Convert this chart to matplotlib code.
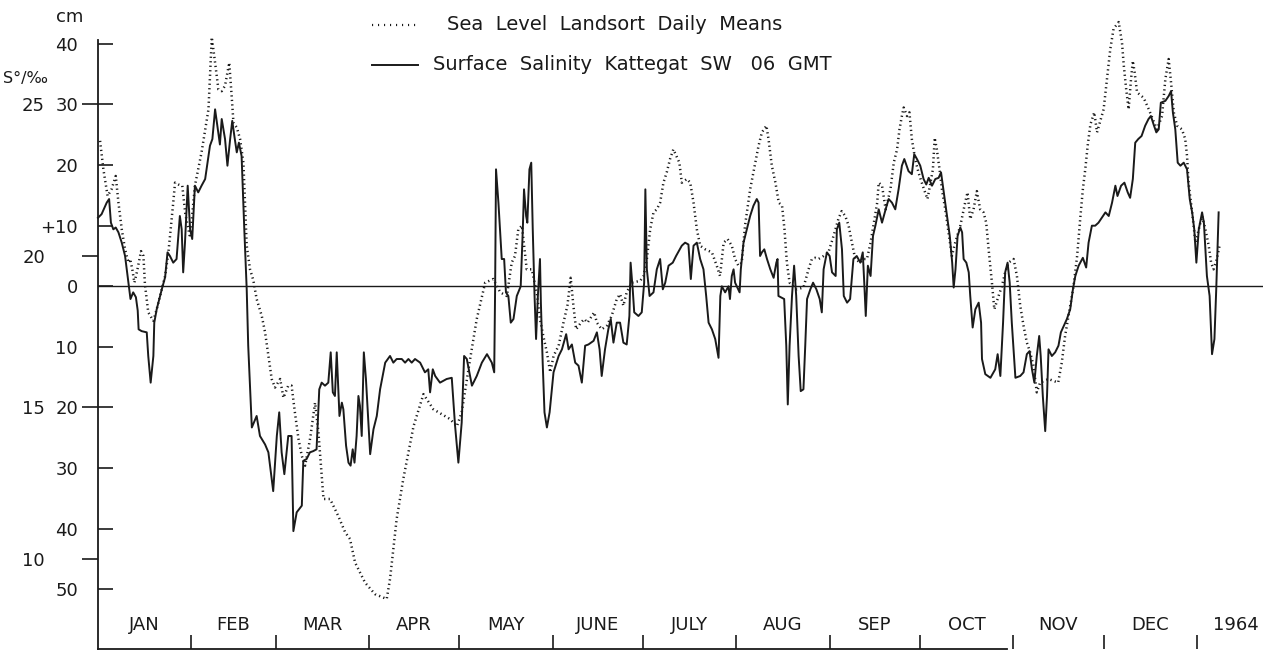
import matplotlib
matplotlib.use("Agg")
import matplotlib.pyplot as plt
from matplotlib.lines import Line2D

plt.rcParams['font.family'] = ['DejaVu Sans']

# sea level Landsort, daily means (cm), x = day of year 1963
sea_day = [0.7, 1.8, 3.2, 4.5, 5.9, 6.8, 7.9, 9.0, 10.1, 10.7, 11.4, 12.1, 13.0, 14.3, 15.1, 15.6,
           16.7, 18.4, 19.5, 21.2, 22.3, 23.4, 25.0, 25.6, 26.7, 28.0, 29.0, 30.6, 32.2, 34.4, 36.7,
           37.8, 38.9, 40.0, 41.1, 42.2, 43.6, 44.4, 45.0, 46.1, 47.2, 48.3, 49.4, 50.5, 51.6, 52.7,
           54.4, 55.5, 56.6, 57.7, 58.8, 60.5, 61.6, 63.2, 64.3, 65.4, 66.6, 67.7, 68.8, 70.5, 72.1,
           73.2, 74.9, 77.1, 79.8, 82.1, 83.7, 85.4, 88.7, 92.0, 95.9, 97.0, 99.2, 101.4, 104.8,
           108.1, 111.4, 116.9, 119.2, 120.8, 123.6, 125.8, 128.6, 131.3, 133.6, 135.8, 137.4,
           138.5, 139.6, 140.8, 142.4, 144.1, 145.7, 146.8, 147.9, 149.1, 150.2, 151.3, 153.0,
           154.6, 155.9, 157.0, 157.9, 158.8, 160.4, 161.5, 162.6, 164.8, 165.7, 167.3, 169.0,
           170.6, 172.3, 173.4, 174.5, 175.6, 177.3, 180.1, 181.2, 182.3, 183.4, 184.5, 185.6,
           186.7, 187.8, 188.9, 190.0, 191.1, 193.1, 193.9, 195.6, 196.7, 197.8, 198.9, 200.0,
           201.7, 203.9, 205.5, 206.6, 207.8, 209.1, 210.5, 211.6, 212.7, 213.8, 214.9, 216.6,
           218.3, 219.4, 220.5, 222.0, 222.7, 223.8, 225.0, 226.1, 227.2, 228.0, 228.8, 229.7,
           232.1, 234.3, 236.0, 237.1, 238.2, 239.3, 241.0, 242.6, 244.3, 245.9, 247.0, 248.2,
           249.3, 250.4, 251.5, 253.2, 254.3, 255.4, 256.6, 257.7, 258.8, 259.3, 260.4, 261.6,
           263.2, 264.3, 265.4, 266.2, 267.0, 267.6, 268.7, 269.5, 270.3, 271.4, 272.5, 273.6,
           274.7, 275.5, 277.3, 277.9, 278.6, 279.5, 280.3, 281.4, 282.5, 283.6, 284.7, 286.4,
           288.0, 288.8, 289.7, 290.8, 291.9, 293.0, 294.1, 295.0, 295.8, 296.9, 297.7, 299.1,
           300.2, 301.3, 302.4, 304.1, 305.2, 306.3, 307.4, 308.5, 309.6, 310.7, 311.8, 312.9,
           315.7, 318.9, 320.1, 321.2, 322.9, 324.0, 325.2, 326.3, 327.1, 327.9, 328.7, 329.6,
           330.9, 331.8, 334.0, 335.1, 336.2, 337.3, 339.0, 340.1, 340.7, 341.5, 342.3, 343.1,
           343.7, 344.3, 345.1, 347.3, 349.0, 351.7, 353.4, 354.5, 355.6, 356.4, 357.3, 358.4,
           360.0, 361.1, 361.7, 362.2, 363.4, 364.5, 366.7, 367.8, 368.9, 369.7, 370.5, 371.6, 372.5]
sea_cm = [24.0, 19.3, 14.9, 16.0, 18.2, 13.8, 9.4, 6.1, 3.9, 4.5, 2.8, 0.6, 2.5, 5.8, 5.0, 0.3,
          -4.3, -5.7, -3.8, -0.5, 1.7, 5.6, 13.8, 17.1, 16.8, 16.6, 12.0, 8.0, 16.6, 22.1, 29.2,
          41.1, 36.9, 32.5, 32.2, 33.1, 36.9, 31.4, 27.0, 26.2, 24.3, 20.4, 6.7, 2.8, 1.0, -2.1,
          -4.9, -7.6, -11.5, -15.3, -16.7, -15.3, -18.4, -16.4, -16.4, -20.8, -25.2, -28.0, -29.6, -25.0, -19.2,
          -24.0, -35.1, -35.1, -37.9, -40.6, -41.7, -45.6, -48.9, -50.8, -51.6, -48.3, -38.4, -31.8, -23.1,
          -17.8, -20.3, -21.9, -23.1, -20.8, -12.0, -5.4, 0.6, 1.2, -1.0, -1.6, 3.9,
          5.0, 9.4, 10.0, 2.8, 2.8, -1.0, -5.4, -8.2, -10.9, -14.2, -11.5, -9.8,
          -6.0, -3.2, 1.4, -3.2, -7.1, -6.0, -5.4, -6.0, -4.3, -6.0, -7.1, -6.5,
          -4.9, -2.1, -1.3, -3.2, -1.0, 0.6, 0.9, 1.7, 4.5, 9.4, 12.2, 12.7,
          13.8, 17.1, 18.8, 21.0, 22.6, 20.4, 17.1, 17.7, 17.1, 13.8, 9.4, 6.7,
          6.1, 5.6, 3.4, 1.7, 7.2, 7.8, 6.7, 4.5, 3.4, 3.9, 10.0, 16.0,
          20.4, 23.2, 25.4, 26.5, 24.3, 19.9, 17.1, 13.8, 13.3, 9.4, 3.9, 0.6,
          -0.5, -0.2, 2.8, 4.5, 4.7, 4.5, 5.0, 5.6, 8.3, 11.1, 12.4, 11.6,
          10.0, 7.2, 4.5, 3.9, 4.5, 4.5, 7.2, 10.5, 13.8, 17.1, 16.6, 12.7,
          16.0, 20.4, 22.6, 25.9, 28.1, 29.5, 28.1, 28.7, 24.3, 21.0, 18.8, 17.1,
          15.5, 14.4, 19.3, 24.5, 22.6, 19.3, 16.0, 12.7, 8.9, 5.0, 7.2, 10.0,
          13.8, 15.5, 11.1, 12.7, 15.7, 12.7, 12.2, 10.5, 6.1, 0.6, -3.8, -1.6,
          0.0, 2.3, 3.9, 4.5, 1.7, -3.2, -6.5, -9.3, -10.9, -13.1, -17.5, -15.9,
          -15.3, -15.9, -12.6, -8.2, -3.2, 0.0, 5.0, 11.6, 16.0, 19.3, 23.2, 26.7,
          28.7, 25.4, 29.2, 34.2, 39.1, 42.5, 43.6, 40.2, 36.4, 32.5, 29.2, 34.2,
          37.2, 35.3, 32.0, 31.1, 29.2, 25.9, 28.1, 34.2, 37.5, 33.6, 28.7, 26.5,
          25.9, 24.3, 21.5, 17.1, 12.2, 7.2, 11.6, 9.4, 6.7, 3.9, 2.8, 4.5, 6.7]

# surface salinity Kattegat SW, 06 GMT (per mille)
sal_day = [0.0, 1.2, 2.9, 3.7, 4.3, 5.1, 5.9, 6.8, 7.9, 9.0, 10.0, 10.8, 11.7, 12.6, 13.2, 13.5,
           14.5, 16.2, 16.7, 17.5, 18.4, 18.7, 19.5, 21.2, 22.3, 23.1, 23.9, 25.0, 26.1, 27.2,
           27.8, 28.3, 28.9, 29.8, 30.6, 31.3, 32.2, 33.3, 34.4, 35.6, 37.2, 38.0, 38.9, 39.8,
           40.5, 41.1, 42.2, 43.0, 43.9, 44.6, 45.3, 46.1, 46.8, 47.7, 48.6, 49.4, 49.9, 51.1,
           52.7, 53.8, 55.5, 56.6, 58.2, 59.4, 60.2, 61.0, 61.9, 63.2, 64.3, 64.9, 66.0, 67.7,
           68.2, 69.3, 70.4, 71.5, 72.6, 73.5, 74.3, 75.4, 76.5, 77.3, 78.0, 78.7, 79.3, 80.2,
           81.0, 81.5, 82.4, 83.2, 83.9, 84.6, 85.2, 85.9, 86.5, 87.0, 87.6, 88.3, 89.0, 89.8,
           90.4, 91.5, 92.6, 93.7, 95.4, 97.0, 98.1, 99.2, 100.9, 102.0, 103.1, 104.2, 105.3,
           107.0, 108.6, 109.7, 110.3, 111.2, 112.0, 113.6, 115.8, 117.5, 118.6, 119.7, 120.8,
           121.6, 122.5, 124.2, 125.8, 127.5, 129.2, 130.8, 131.6, 131.9, 132.2, 133.0, 134.1,
           134.9, 135.5, 136.3, 137.1, 138.0, 139.1, 140.4, 141.1, 141.5, 142.2, 142.6, 143.3,
           143.9, 144.4, 145.0, 145.5, 146.1, 146.8, 147.1, 147.7, 148.3, 149.1, 150.0, 151.3,
           153.0, 154.1, 155.5, 156.3, 157.4, 158.5, 159.6, 160.7, 161.8, 162.9, 164.6, 165.7,
           166.6, 167.3, 168.4, 169.5, 170.3, 171.2, 172.3, 173.4, 174.5, 175.6, 176.5, 176.9,
           177.6, 178.1, 179.5, 180.6, 181.4, 181.8, 182.3, 183.2, 184.5, 185.6, 186.7, 187.6,
           188.4, 189.5, 190.9, 192.0, 193.9, 195.0, 196.1, 196.9, 197.8, 198.9, 200.0, 201.1,
           202.0, 202.8, 203.9, 205.0, 206.1, 206.7, 207.2, 208.3, 209.4, 209.9, 210.5, 211.1,
           211.6, 213.1, 213.5, 214.4, 215.5, 216.6, 217.7, 218.8, 219.4, 219.9, 220.5, 221.3,
           222.2, 223.3, 224.4, 225.3, 225.7, 226.0, 227.1, 227.9, 228.6, 229.1, 229.7, 230.5,
           231.2, 231.9, 232.7, 233.4, 234.3, 234.9, 235.5, 236.6, 237.5, 238.6, 239.7, 240.4,
           241.0, 242.1, 243.0, 243.8, 245.0, 245.4, 246.2, 247.1, 247.7, 248.8, 249.8, 250.9,
           252.0, 253.2, 254.0, 254.5, 255.0, 255.7, 256.6, 257.4, 258.2, 259.3, 260.4, 261.6,
           262.6, 263.7, 264.8, 265.9, 267.0, 267.8, 269.2, 270.3, 271.1, 272.0, 273.1, 274.2,
           275.1, 275.9, 277.0, 278.1, 279.2, 280.0, 280.9, 282.0, 282.9, 283.7, 284.2, 284.8,
           285.5, 286.4, 287.0, 287.5, 288.4, 289.2, 289.7, 290.5, 291.4, 292.5, 293.3, 293.6,
           294.7, 296.4, 298.0, 298.8, 299.7, 300.6, 301.3, 302.1, 302.8, 303.5, 304.7, 306.3,
           307.4, 308.5, 309.4, 310.2, 311.0, 311.8, 312.6, 313.1, 313.8, 314.6, 315.2, 315.7,
           316.8, 317.9, 319.0, 319.8, 321.8, 322.9, 323.8, 324.6, 325.7, 327.1, 328.2, 329.0,
           330.1, 331.2, 332.3, 334.6, 335.7, 336.8, 337.9, 338.6, 339.8, 340.9, 342.0, 342.8,
           343.7, 344.5, 345.5, 346.6, 347.8, 348.9, 349.7, 350.6, 351.5, 352.3, 353.0, 354.5,
           355.6, 356.4, 357.0, 357.8, 358.6, 359.5, 360.6, 361.7, 362.6, 363.4, 364.1, 364.8,
           365.6, 366.7, 367.3, 368.3, 369.2, 370.0, 370.8, 371.4, 372.2]
sal_pm = [21.26, 21.38, 21.76, 21.88, 21.10, 20.88, 20.94, 20.78, 20.44, 20.00, 19.20, 18.58, 18.80, 18.64, 18.20, 17.58,
          17.52, 17.48, 16.70, 15.82, 16.70, 17.80, 18.24, 18.90, 19.30, 20.12, 20.00, 19.78, 19.90, 21.32,
          20.88, 19.46, 20.44, 22.32, 20.88, 20.56, 22.32, 22.10, 22.32, 22.54, 23.64, 23.86, 24.84, 24.18,
          23.68, 24.52, 23.86, 22.98, 23.86, 24.46, 23.96, 23.42, 23.74, 23.30, 20.88, 18.90, 17.04, 14.34,
          14.72, 14.06, 13.78, 13.52, 12.24, 14.06, 14.84, 13.52, 12.80, 14.06, 14.06, 10.92, 11.54, 11.76,
          13.24, 13.30, 13.52, 13.56, 13.62, 15.60, 15.82, 15.72, 15.82, 16.82, 15.50, 15.38, 16.82, 14.72,
          15.16, 14.94, 13.74, 13.18, 13.08, 13.62, 13.18, 14.06, 15.38, 15.06, 14.06, 16.82, 15.94, 14.50,
          13.46, 14.28, 14.72, 15.60, 16.48, 16.70, 16.48, 16.60, 16.60, 16.48, 16.60, 16.48, 16.60,
          16.48, 16.16, 16.26, 15.50, 16.26, 16.04, 15.82, 15.94, 15.98, 14.40, 13.18, 14.50,
          16.70, 16.60, 15.72, 16.04, 16.48, 16.76, 16.48, 16.16, 18.90, 22.86, 21.76, 19.90,
          19.90, 18.80, 18.68, 17.80, 17.92, 18.68, 19.00, 20.88, 22.20, 21.32, 21.10, 22.86,
          23.08, 20.88, 18.68, 17.26, 18.68, 19.90, 18.46, 16.48, 14.84, 14.34, 14.84, 16.16,
          16.70, 16.92, 17.42, 16.92, 17.08, 16.48, 16.38, 15.82, 17.04, 17.08, 17.20, 17.48,
          16.92, 16.04, 16.92, 17.58, 17.92, 17.14, 17.80, 17.80, 17.14, 17.08, 18.02, 19.78,
          18.90, 18.14, 18.02, 18.14, 19.12, 22.20, 19.56, 18.68, 18.80, 19.56, 19.90, 18.90,
          19.12, 19.68, 19.78, 20.00, 20.34, 20.44, 20.38, 19.24, 20.34, 20.44, 19.90, 19.56,
          18.68, 17.80, 17.58, 17.26, 16.64, 18.68, 19.00, 18.80, 19.00, 18.58, 19.34, 19.56,
          19.12, 18.80, 19.56, 20.44, 20.88, 21.32, 21.66, 21.88, 21.76, 20.00, 20.12, 20.22,
          19.90, 19.56, 19.28, 19.78, 19.90, 18.68, 18.62, 18.58, 17.04, 15.10, 17.04, 18.68,
          19.68, 18.68, 16.70, 15.54, 15.60, 17.04, 18.58, 18.90, 19.12, 18.90, 18.58, 18.14,
          19.56, 20.12, 20.00, 19.46, 19.34, 20.88, 21.10, 20.22, 18.68, 18.46, 18.58, 19.90,
          20.00, 19.78, 20.12, 19.12, 18.02, 19.68, 19.34, 20.66, 21.00, 21.54, 21.10, 21.54,
          21.88, 21.76, 21.54, 22.20, 22.98, 23.20, 22.80, 22.70, 23.36, 23.20, 22.98, 22.54,
          22.36, 22.58, 22.32, 22.54, 22.58, 22.76, 22.10, 21.32, 20.66, 19.78, 18.96, 19.56,
          20.66, 20.94, 20.78, 19.90, 19.78, 19.46, 18.68, 17.64, 18.24, 18.46, 17.80, 16.60,
          16.10, 15.98, 16.26, 16.76, 16.04, 17.80, 19.46, 19.78, 19.12, 17.80, 15.98, 16.04,
          16.16, 16.76, 16.86, 16.26, 15.82, 16.70, 17.36, 16.70, 15.38, 14.22, 15.38, 16.92,
          16.70, 16.82, 17.04, 17.48, 17.92, 18.24, 18.90, 19.34, 19.68, 19.94, 19.62, 20.44,
          21.00, 21.00, 21.10, 21.44, 21.32, 21.76, 22.32, 21.98, 22.32, 22.42, 22.10, 21.92,
          22.54, 23.74, 23.86, 23.96, 24.30, 24.52, 24.62, 24.34, 24.08, 24.18, 25.06, 25.12,
          25.28, 25.44, 24.74, 24.18, 23.08, 22.98, 23.08, 22.86, 21.88, 21.44, 20.88, 19.78,
          20.88, 21.44, 21.10, 19.34, 18.68, 16.76, 17.26, 18.90, 21.44]

month_edges = [31, 59, 90, 120, 151, 181, 212, 243, 273, 304, 334, 365]
month_names = ['JAN', 'FEB', 'MAR', 'APR', 'MAY', 'JUNE', 'JULY', 'AUG', 'SEP', 'OCT', 'NOV', 'DEC', '1964']
month_mid = [15.5, 45, 74.5, 105, 135.5, 166, 196.5, 227.5, 258, 288.5, 319, 349.5, 378]

cm_ticks = [40, 30, 20, 10, 0, -10, -20, -30, -40, -50]
cm_labels = ['40', '30', '20', '+10', '0', '10', '20', '30', '40', '50']
sal_ticks = [25, 20, 15, 10]

ink = '#1a1a1a'
dots = (0, (0.5, 1.3))

fig = plt.figure(figsize=(12.69, 6.55), dpi=100)
ax = fig.add_axes([0.0772, 0.0092, 0.918, 0.9297])
ax.set_xlim(0, 386.9)
ax.set_ylim(-59.85, 40.64)

# salinity scale: 5 cm per 1 per mille, 19 per mille at 0 cm
ax2 = ax.twinx()
ax2.set_ylim(19 - 59.85 / 5, 19 + 40.64 / 5)

for a in (ax, ax2):
    for s in ('top', 'right'):
        a.spines[s].set_visible(False)
ax2.spines['left'].set_visible(False)
ax2.spines['bottom'].set_visible(False)
ax.spines['left'].set_linewidth(1.3)
ax.spines['bottom'].set_linewidth(1.3)
ax.spines['left'].set_color(ink)
ax.spines['bottom'].set_color(ink)
ax.spines['bottom'].set_bounds(0, 302)

ax.axhline(0, color=ink, lw=1.0)

ax.plot(sea_day, sea_cm, color=ink, lw=1.8, linestyle=dots, clip_on=False)
ax2.plot(sal_day, sal_pm, color=ink, lw=1.4, clip_on=False)

ax.set_yticks(cm_ticks)
ax.set_yticklabels(cm_labels)
ax.tick_params(axis='y', direction='in', length=10.8, width=1.2, pad=14.4,
               labelsize=13, colors=ink)

ax2.yaxis.tick_left()
ax2.set_yticks(sal_ticks)
ax2.tick_params(axis='y', direction='out', length=11.5, width=1.2, pad=26.6,
                labelsize=13, colors=ink)

ax.set_xticks(month_edges)
ax.set_xticklabels([])
ax.tick_params(axis='x', direction='in', length=10, width=1.2, colors=ink)

for name, mid in zip(month_names, month_mid):
    ax.text(mid, 0.0394, name, transform=ax.get_xaxis_transform(), ha='center', va='center',
            fontsize=13, color=ink)

fig.text(70 / 1269, 1 - 17 / 655, 'cm', ha='center', va='center', fontsize=13, color=ink)
fig.text(26 / 1269, 1 - 78 / 655, 'S\u00b0/\u2030', ha='center', va='center', fontsize=11.5, color=ink)

# legend
fig.add_artist(Line2D([372 / 1269, 418 / 1269], [1 - 25 / 655] * 2, color=ink, lw=1.6,
                      linestyle=(0, (0.5, 2.2))))
fig.add_artist(Line2D([372 / 1269, 418 / 1269], [1 - 65 / 655] * 2, color=ink, lw=1.4))
fig.text(447 / 1269, 1 - 25 / 655, 'Sea  Level  Landsort  Daily  Means', ha='left', va='center',
         fontsize=14, color=ink)
fig.text(433 / 1269, 1 - 65 / 655, 'Surface  Salinity  Kattegat  SW   06  GMT', ha='left',
         va='center', fontsize=14, color=ink)

fig.savefig('out.png', dpi=100)
